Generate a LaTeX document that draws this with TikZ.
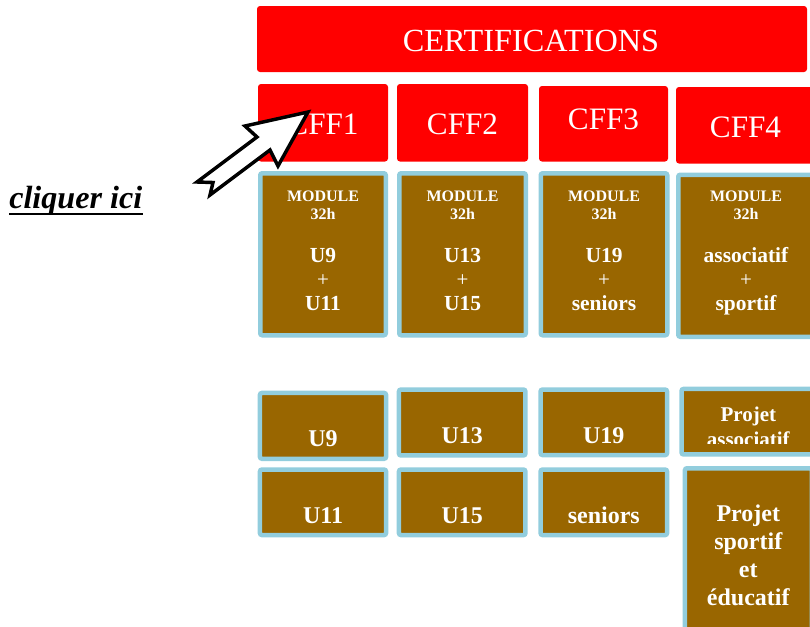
\documentclass[tikz,border=0pt]{standalone}
\usepackage{fontspec}
\setmainfont{Liberation Serif}
\definecolor{cred}{RGB}{255,0,0}
\definecolor{cbrown}{RGB}{153,102,0}
\definecolor{cblue}{RGB}{146,205,221}
\newcommand\fbig{\fontsize{24.2pt}{26pt}\selectfont}
\newcommand\fcff{\fontsize{23.4pt}{26pt}\selectfont}
\newcommand\fmod{\fontsize{12pt}{14pt}\bfseries\selectfont}
\newcommand\fmid{\fontsize{16.1pt}{18pt}\bfseries\selectfont}
\newcommand\fplus{\fontsize{15.75pt}{18pt}\selectfont}
\newcommand\flow{\fontsize{18pt}{20pt}\bfseries\selectfont}
\newcommand\fproj{\fontsize{15.75pt}{18pt}\bfseries\selectfont}
\newcommand\rbox[5]{\node[redbox, minimum width={(#4-#2)*0.75pt}, minimum height={(#5-#3)*0.75pt}] (#1) at ({(#2+#4)/2},{(#3+#5)/2}) {};}
\newcommand\bbox[5]{\node[bluebox, minimum width={(#4-#2-4.5)*0.75pt}, minimum height={(#5-#3-4.5)*0.75pt}] (#1) at ({(#2+#4)/2},{(#3+#5)/2}) {};}
\newcommand\modt[4]{%
  \node[wt,font=\fmod] (#1a) at (#2,201) {MODULE};
  \node[wt,font=\fmod] (#1b) at (#2,219) {32h};
  \node[wt,font=\fmid] (#1c) at (#2,262) {#3};
  \node[wt,font=\fplus] (#1d) at (#2,286.5) {+};
  \node[wt,font=\fmid] (#1e) at (#2,310) {#4};}
\tikzset{
  redbox/.style={fill=cred, rounded corners=2.25pt, inner sep=0pt, outer sep=0pt},
  bluebox/.style={fill=cbrown, draw=cblue, line width=3.375pt, rounded corners=1.5pt, inner sep=0pt, outer sep=0pt},
  wt/.style={text=white, inner sep=0pt, anchor=base},
  blockarrow/.style={draw=black, fill=white, line width=2.6pt, line join=miter}
}
\begin{document}
\begin{tikzpicture}[x=0.75pt,y=-0.75pt]
\useasboundingbox (0,0) rectangle (810,626);
\clip (0,0) rectangle (810,626);
% top red boxes
\rbox{cert}{257}{6}{807}{72}
\node[wt,font=\fbig] (certt) at (531,51) {CERTIFICATIONS};
\rbox{cff1}{258}{84}{388}{161.5}
\rbox{cff2}{397}{84}{528}{161.5}
\rbox{cff3}{539}{86}{668}{161.5}
\rbox{cff4}{676}{87}{830}{163.5}
\node[wt,font=\fcff] (cff1t) at (323,134.5) {CFF1};
\node[wt,font=\fcff] (cff2t) at (462.5,134.5) {CFF2};
\node[wt,font=\fcff] (cff3t) at (603.5,129.5) {CFF3};
\node[wt,font=\fcff] (cff4t) at (745.5,137.3) {CFF4};
% module boxes
\bbox{m1}{258}{171}{388}{337.5}
\bbox{m2}{397}{171}{528}{337.5}
\bbox{m3}{538.5}{171}{669.5}{337.5}
\bbox{m4}{676}{172.5}{816}{339}
\modt{t1}{323}{U9}{U11}
\modt{t2}{462.5}{U13}{U15}
\modt{t3}{604}{U19}{seniors}
\modt{t4}{746}{associatif}{sportif}
% lower boxes
\bbox{u9}{257.7}{390.7}{388.3}{461}
\bbox{u13}{396.7}{387.3}{527.7}{457.7}
\bbox{u19}{538.3}{387.3}{669.3}{457.3}
\bbox{pa}{679.3}{386.7}{820}{456.7}
\bbox{u11}{257.7}{467.3}{388.3}{537.3}
\bbox{u15}{396.7}{467.3}{527.7}{537.3}
\bbox{sen}{538.3}{467.3}{669.3}{537.3}
\bbox{ps}{682.7}{466}{814}{640}
\node[wt,font=\flow] (u9t) at (323,446.7) {U9};
\node[wt,font=\flow] (u13t) at (462.2,443.3) {U13};
\node[wt,font=\flow] (u19t) at (603.8,443.3) {U19};
\node[wt,font=\flow] (u11t) at (323,523.3) {U11};
\node[wt,font=\flow] (u15t) at (462.2,523.3) {U15};
\node[wt,font=\flow] (sent) at (603.8,523.3) {seniors};
\begin{scope}
\clip (679,386) rectangle (815,443);
\node[wt,font=\fproj] (pat1) at (748.3,421.7) {Projet};
\node[wt,font=\fproj] (pat2) at (748.3,446) {associatif};
\end{scope}
\node[wt,font=\flow] (pst1) at (748.3,521.7) {Projet};
\node[wt,font=\flow] (pst2) at (748.3,549.5) {sportif};
\node[wt,font=\flow] (pst3) at (748.3,577) {et};
\node[wt,font=\flow] (pst4) at (748.3,605) {éducatif};
% cliquer ici
\node[inner sep=0pt, anchor=base west, font=\fontsize{24.1pt}{26pt}\bfseries\itshape\selectfont] (cl) at (9,208.3) {cliquer ici};
\draw[line width=1.75pt] ([yshift=-4.3pt]cl.base west) -- ([yshift=-4.3pt]cl.base east);
% block arrow
\draw[blockarrow] (308,112) -- (245,126) -- (257,137) -- (197,182) -- (213,182.5) -- (210,195) -- (270,150) -- (278,166) -- cycle;
\end{tikzpicture}
\end{document}
